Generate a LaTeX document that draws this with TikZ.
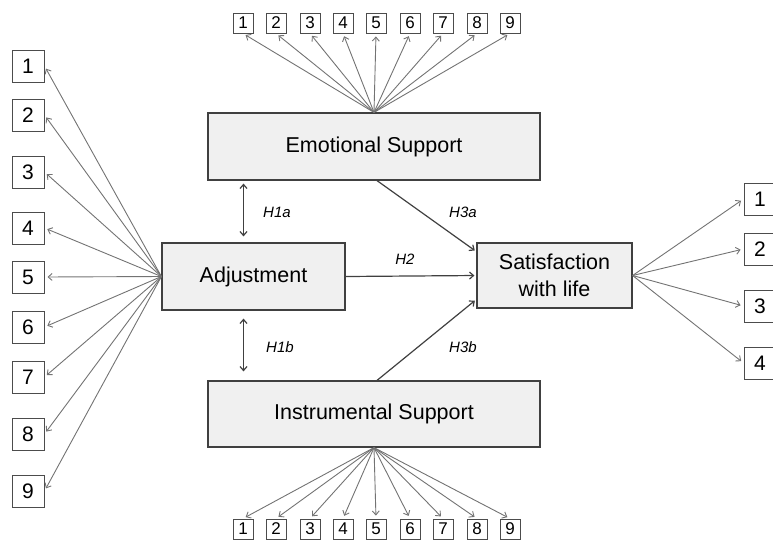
\documentclass[tikz,border=0pt]{standalone}
\usepackage{fontspec}
\setmainfont{Liberation Sans}
\usetikzlibrary{arrows.meta}

\begin{document}
\begin{tikzpicture}[x={(1pt, 0pt)}, y={(0pt, -1pt)}, >={Straight Barb[length=4pt, width=7pt]}]
  \tikzstyle{construct}=[draw=black!75, fill=black!6, line width=1.2pt, inner sep=0pt, align=center, font=\fontsize{21.5}{27}\selectfont]
  \tikzstyle{indicator}=[draw=black!70, line width=1pt, minimum size=32pt, inner sep=0pt, font=\fontsize{21}{22}\selectfont]
  \tikzstyle{smallind}=[draw=black!70, line width=0.9pt, minimum size=20pt, inner sep=0pt, font=\fontsize{17}{18}\selectfont]
  \tikzstyle{loading}=[black!55, line width=0.9pt, ->, shorten >=3pt]
  \tikzstyle{hyp}=[black!75, line width=1.2pt, ->]
  \tikzstyle{hlabel}=[font=\fontsize{15}{17}\selectfont\itshape]

\useasboundingbox (0, 0) rectangle (773, 539);

\node[construct, minimum width=332pt, minimum height=67pt] (emo) at (374, 146.5) {Emotional Support};
\node[construct, minimum width=332pt, minimum height=66pt] (ins) at (374, 414) {Instrumental Support};
\node[construct, minimum width=183pt, minimum height=67pt] (adj) at (253.5, 276.5) {Adjustment};
\node[construct, minimum width=155pt, minimum height=65pt] (sat) at (554.5, 275.5) {Satisfaction\\with life};

\node[indicator] (a1) at (28, 66) {1};
\node[indicator] (a2) at (28, 115) {2};
\node[indicator] (a3) at (28, 172) {3};
\node[indicator] (a4) at (28, 228) {4};
\node[indicator] (a5) at (28, 277) {5};
\node[indicator] (a6) at (28, 327) {6};
\node[indicator] (a7) at (28, 377) {7};
\node[indicator] (a8) at (28, 434) {8};
\node[indicator] (a9) at (28, 491) {9};

\node[indicator] (s1) at (760, 199) {1};
\node[indicator] (s2) at (760, 249) {2};
\node[indicator] (s3) at (760, 306) {3};
\node[indicator] (s4) at (760, 363) {4};

\node[smallind] (e1) at (243, 23) {1};
\node[smallind] (e2) at (276, 23) {2};
\node[smallind] (e3) at (310, 23) {3};
\node[smallind] (e4) at (343, 23) {4};
\node[smallind] (e5) at (376, 23) {5};
\node[smallind] (e6) at (410, 23) {6};
\node[smallind] (e7) at (443, 23) {7};
\node[smallind] (e8) at (477, 23) {8};
\node[smallind] (e9) at (510, 23) {9};

\node[smallind] (i1) at (243, 529) {1};
\node[smallind] (i2) at (276, 529) {2};
\node[smallind] (i3) at (310, 529) {3};
\node[smallind] (i4) at (343, 529) {4};
\node[smallind] (i5) at (376, 529) {5};
\node[smallind] (i6) at (410, 529) {6};
\node[smallind] (i7) at (443, 529) {7};
\node[smallind] (i8) at (477, 529) {8};
\node[smallind] (i9) at (510, 529) {9};

\draw[loading] (adj.west) -- (a1.east);
\draw[loading] (adj.west) -- (a2.east);
\draw[loading] (adj.west) -- (a3.east);
\draw[loading] (adj.west) -- (a4.east);
\draw[loading] (adj.west) -- (a5.east);
\draw[loading] (adj.west) -- (a6.east);
\draw[loading] (adj.west) -- (a7.east);
\draw[loading] (adj.west) -- (a8.east);
\draw[loading] (adj.west) -- (a9.east);

\draw[loading] (sat.east) -- (s1.west);
\draw[loading] (sat.east) -- (s2.west);
\draw[loading] (sat.east) -- (s3.west);
\draw[loading] (sat.east) -- (s4.west);

\draw[loading] (emo.north) -- (e1.south);
\draw[loading] (emo.north) -- (e2.south);
\draw[loading] (emo.north) -- (e3.south);
\draw[loading] (emo.north) -- (e4.south);
\draw[loading] (emo.north) -- (e5.south);
\draw[loading] (emo.north) -- (e6.south);
\draw[loading] (emo.north) -- (e7.south);
\draw[loading] (emo.north) -- (e8.south);
\draw[loading] (emo.north) -- (e9.south);

\draw[loading] (ins.south) -- (i1.north);
\draw[loading] (ins.south) -- (i2.north);
\draw[loading] (ins.south) -- (i3.north);
\draw[loading] (ins.south) -- (i4.north);
\draw[loading] (ins.south) -- (i5.north);
\draw[loading] (ins.south) -- (i6.north);
\draw[loading] (ins.south) -- (i7.north);
\draw[loading] (ins.south) -- (i8.north);
\draw[loading] (ins.south) -- (i9.north);

\draw[hyp, <->, shorten <=3pt, shorten >=6pt] ([xshift=-10pt]adj.north |- emo.south) -- ([xshift=-10pt]adj.north);
\node[hlabel] (h1a) at (277, 212) {H1a};

\draw[hyp, <->, shorten <=8pt, shorten >=9pt] ([xshift=-10pt]adj.south) -- ([xshift=-10pt]adj.south |- ins.north);
\node[hlabel] (h1b) at (280, 347) {H1b};

\draw[hyp, shorten >=2pt] ([xshift=3pt]emo.south) -- (sat.163);
\node[hlabel] (h3a) at (463, 212) {H3a};

\draw[hyp, shorten >=2pt] (adj.east) -- (sat.west);
\node[hlabel] (h2) at (405, 259) {H2};

\draw[hyp, shorten >=2pt] ([xshift=3pt]ins.north) -- (sat.197);
\node[hlabel] (h3b) at (463, 347) {H3b};
\end{tikzpicture}
\end{document}
